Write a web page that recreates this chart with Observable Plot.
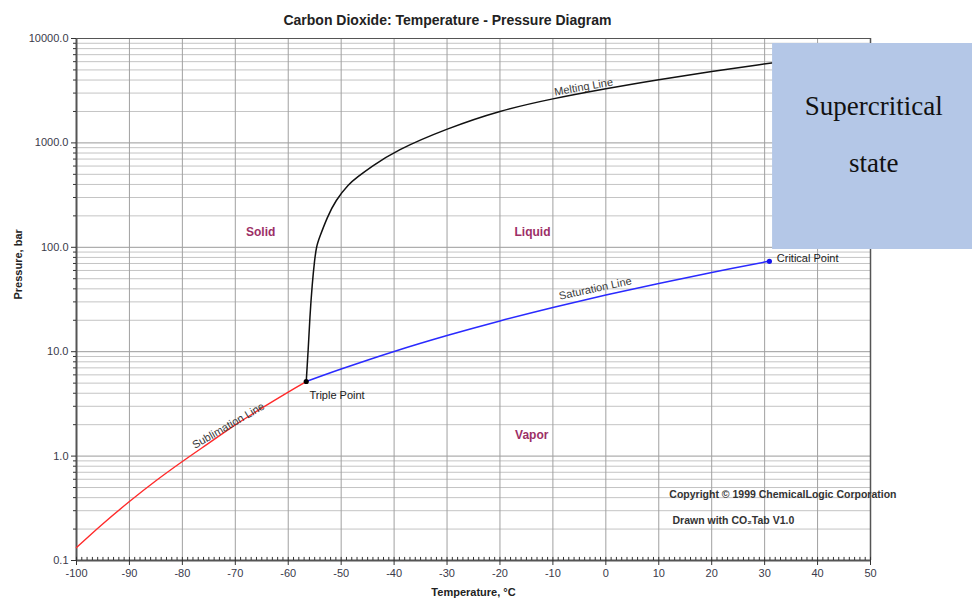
<!DOCTYPE html>
<html>
<head>
<meta charset="utf-8">
<script src="https://cdn.jsdelivr.net/npm/d3@7"></script>
<script src="https://cdn.jsdelivr.net/npm/@observablehq/plot@0.6"></script>
<style>
  html, body { margin: 0; padding: 0; background: #fff; }
  #chart { width: 972px; height: 598px; }
</style>
</head>
<body>
<div id="chart"></div>
<script>
// ---- data ----
const title = "Carbon Dioxide: Temperature - Pressure Diagram";
const xLabel = "Temperature, °C";
const yLabel = "Pressure, bar";

const tempTicks = [-100, -90, -80, -70, -60, -50, -40, -30, -20, -10, 0, 10, 20, 30, 40, 50];
const tempMinorTicks = d3.range(-100, 51, 1);
const pressureTicks = [0.1, 1, 10, 100, 1000, 10000];
const pressureMinorTicks = [0.1, 1, 10, 100, 1000].flatMap(b => [2,3,4,5,6,7,8,9].map(m => +(b * m).toPrecision(3)));

// sublimation line (T °C, p bar)
const sublimation = [
  [-100, 0.133], [-95, 0.225], [-90, 0.367], [-85, 0.58], [-80, 0.887],
  [-75, 1.33], [-70, 1.99], [-65, 2.88], [-60, 4.10], [-56.6, 5.18]
].map(([t, p]) => ({t, p}));

// saturation (vapour pressure) line
const saturation = [
  [-56.6, 5.18], [-50, 6.82], [-40, 10.05], [-30, 14.28], [-20, 19.70],
  [-10, 26.49], [0, 34.85], [10, 45.02], [20, 57.29], [30, 72.14], [30.9, 73.4]
].map(([t, p]) => ({t, p}));

// melting line
const melting = [
  [-56.6, 5.18], [-56.23, 10.2], [-55.92, 21.4], [-55.47, 44.7], [-55.03, 74.8],
  [-54.66, 102.9], [-54.10, 124], [-52.64, 194], [-51.07, 281], [-48.55, 405],
  [-46.97, 469], [-44.45, 585], [-39.7, 846], [-30, 1374], [-20, 2045],
  [-10, 2660], [0, 3310], [10, 4050], [20, 4830], [30, 5700], [32, 5900]
].map(([t, p]) => ({t, p}));

const points = [
  {t: -56.6, p: 5.18, color: "#000000"},
  {t: 30.9, p: 73.4, color: "#1515ee"}
];

const pointLabels = [
  {t: -56.0, p: 3.8, text: "Triple Point"},
  {t: 32.3, p: 78.2, text: "Critical Point"}
];

const lineLabels = [
  {t: -71.3, p: 1.96, text: "Sublimation Line", angle: -30},
  {t: -2.0, p: 40.3, text: "Saturation Line", angle: -12},
  {t: -4.2, p: 3430, text: "Melting Line", angle: -10}
];

const regionLabels = [
  {t: -65.2, p: 138.6, text: "Solid"},
  {t: -13.85, p: 138.6, text: "Liquid"},
  {t: -14.0, p: 1.57, text: "Vapor"}
];

const credits = [
  {t: 12.0, p: 0.428, text: "Copyright © 1999 ChemicalLogic Corporation"},
  {t: 12.6, p: 0.2416, text: "Drawn with CO\u2082Tab V1.0"}
];

// supercritical annotation box
const superBox = [{t1: 31.5, t2: 69.3, p1: 95.3, p2: 8956}];
const superText = [
  {t: 50.6, p: 2233, text: "Supercritical"},
  {t: 50.6, p: 635, text: "state"}
];

// ---- chart ----
const chart = Plot.plot({
  width: 972,
  height: 598,
  marginLeft: 76,
  marginRight: 102,
  marginTop: 38,
  marginBottom: 38,
  x: {domain: [-100, 50]},
  y: {type: "log", domain: [0.1, 10000]},
  style: {fontFamily: "'Liberation Sans', Arial, sans-serif", fontSize: "11px", color: "#333", background: "#fff"},
  marks: [
    Plot.gridY(pressureMinorTicks, {stroke: "#c4c4c4", strokeOpacity: 1}),
    Plot.gridY(pressureTicks, {stroke: "#9a9a9a", strokeOpacity: 1}),
    Plot.gridX(tempTicks, {stroke: "#a0a0a0", strokeOpacity: 1}),
    Plot.ruleY([10000], {stroke: "#555", strokeWidth: 1.2}),
    Plot.ruleX([50], {stroke: "#555", strokeWidth: 1.5}),
    Plot.ruleX([-100], {stroke: "#555", strokeWidth: 2}),
    Plot.ruleY([0.1], {stroke: "#555", strokeWidth: 2}),
    Plot.axisY(pressureTicks, {tickFormat: d => d.toFixed(1), tickSize: 5, tickPadding: 3, label: null, fill: "#3a3a4a"}),
    Plot.axisY(pressureMinorTicks, {tickSize: 3, text: null, label: null}),
    Plot.axisX(tempTicks, {tickFormat: d => String(d), tickSize: 5, tickPadding: 4, label: null, fill: "#3a3a4a"}),
    Plot.ruleX(tempMinorTicks, {y1: 0.1, y2: 0.107, stroke: "#333", strokeWidth: 1}),
    Plot.line(sublimation, {x: "t", y: "p", stroke: "#ff2a2a", strokeWidth: 1.4, curve: "catmull-rom"}),
    Plot.line(saturation, {x: "t", y: "p", stroke: "#2a2aff", strokeWidth: 1.5, curve: "catmull-rom"}),
    Plot.line(melting, {x: "t", y: "p", stroke: "#111", strokeWidth: 1.5, curve: "basis"}),
    Plot.dot(points, {x: "t", y: "p", fill: "color", r: 2.6, stroke: null}),
    Plot.text(pointLabels, {x: "t", y: "p", text: "text", textAnchor: "start", fill: "#222", fontSize: 11}),
    Plot.text(lineLabels, {x: "t", y: "p", text: "text", rotate: "angle", fill: "#3a3a3a", fontSize: 11}),
    Plot.text(regionLabels, {x: "t", y: "p", text: "text", fill: "#9c2f66", fontWeight: "bold", fontSize: 12}),
    Plot.text(credits, {x: "t", y: "p", text: "text", textAnchor: "start", fill: "#333", fontWeight: "bold", fontSize: 10.5}),
    Plot.rect(superBox, {x1: "t1", x2: "t2", y1: "p1", y2: "p2", fill: "#b4c7e7"}),
    Plot.text(superText, {x: "t", y: "p", text: "text", fill: "#111", fontFamily: "'Liberation Serif', 'Times New Roman', serif", fontSize: 27}),
    Plot.text([title], {text: d => d, frameAnchor: "top", dy: -23, dx: -26, fontSize: 14, fontWeight: "bold", fill: "#222"}),
    Plot.text([xLabel], {text: d => d, frameAnchor: "bottom", dy: 35, fontSize: 11, fontWeight: "bold", fill: "#222"}),
    Plot.text([yLabel], {text: d => d, frameAnchor: "left", dx: -58, rotate: -90, fontSize: 11, fontWeight: "bold", fill: "#222"})
  ]
});
document.getElementById("chart").appendChild(chart);
</script>
</body>
</html>
